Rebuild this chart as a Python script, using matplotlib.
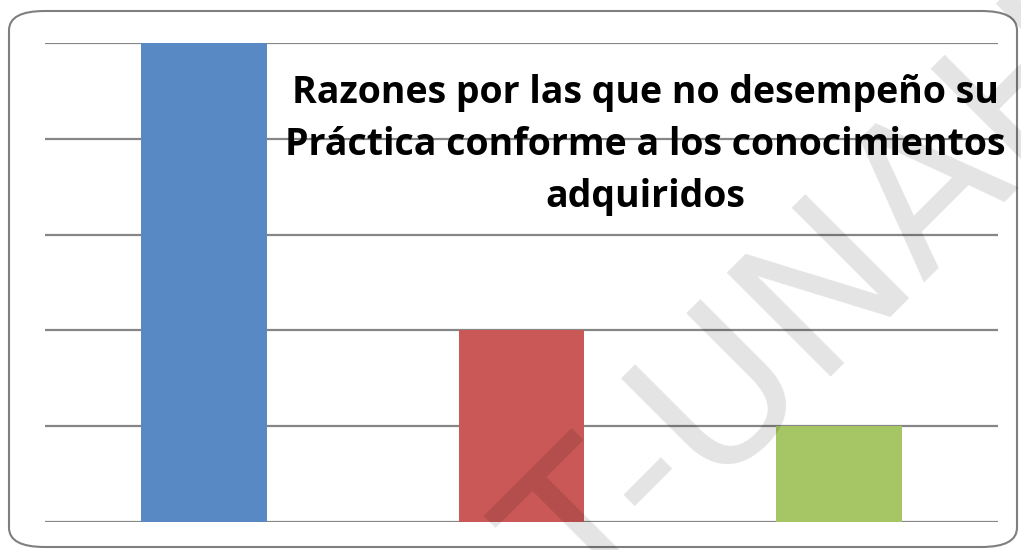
import matplotlib.pyplot as plt
from matplotlib.patches import FancyBboxPatch

# datos
razones = ["Razón 1", "Razón 2", "Razón 3"]
valores = [5, 2, 1]
colores = ["#5889C5", "#CA5856", "#A6C564"]
titulo = "Razones por las que no desempeño su\nPráctica conforme a los conocimientos\nadquiridos"

fig = plt.figure(figsize=(10.21, 5.5), dpi=100)
ax = fig.add_axes([45 / 1021, 1 - 522 / 550, 953 / 1021, 479 / 550])

x = range(len(razones))
ax.bar(x, valores, width=0.395, color=colores, zorder=2)
ax.set_xlim(-0.5, 2.5)
ax.set_ylim(0, 5)
ax.set_yticks([0, 1, 2, 3, 4, 5])
ax.yaxis.grid(True, color="#868686", linewidth=1.6, zorder=1)
ax.set_axisbelow(True)
ax.tick_params(left=False, bottom=False, labelleft=False, labelbottom=False)
for s in ax.spines.values():
    s.set_visible(False)

fig.text(645 / 1021, 1 - 145 / 550, titulo, ha="center", va="center",
         fontsize=27, fontweight="bold", family="Open Sans",
         linespacing=1.5, color="black")

# marca de agua
fig.text(820 / 1021, 1 - 310 / 550, "T-UNAH", ha="center", va="center",
         rotation=45, fontsize=145, family="DejaVu Sans", color="black",
         alpha=0.11, zorder=10)

# borde redondeado
borde = FancyBboxPatch((9 / 1021, 3 / 550), 1008 / 1021, 536 / 550,
                       boxstyle="round,pad=0,rounding_size=0.035",
                       transform=fig.transFigure, fill=False,
                       edgecolor="#7f7f7f", linewidth=1.5)
fig.patches.append(borde)

fig.savefig("out.png", dpi=100)
